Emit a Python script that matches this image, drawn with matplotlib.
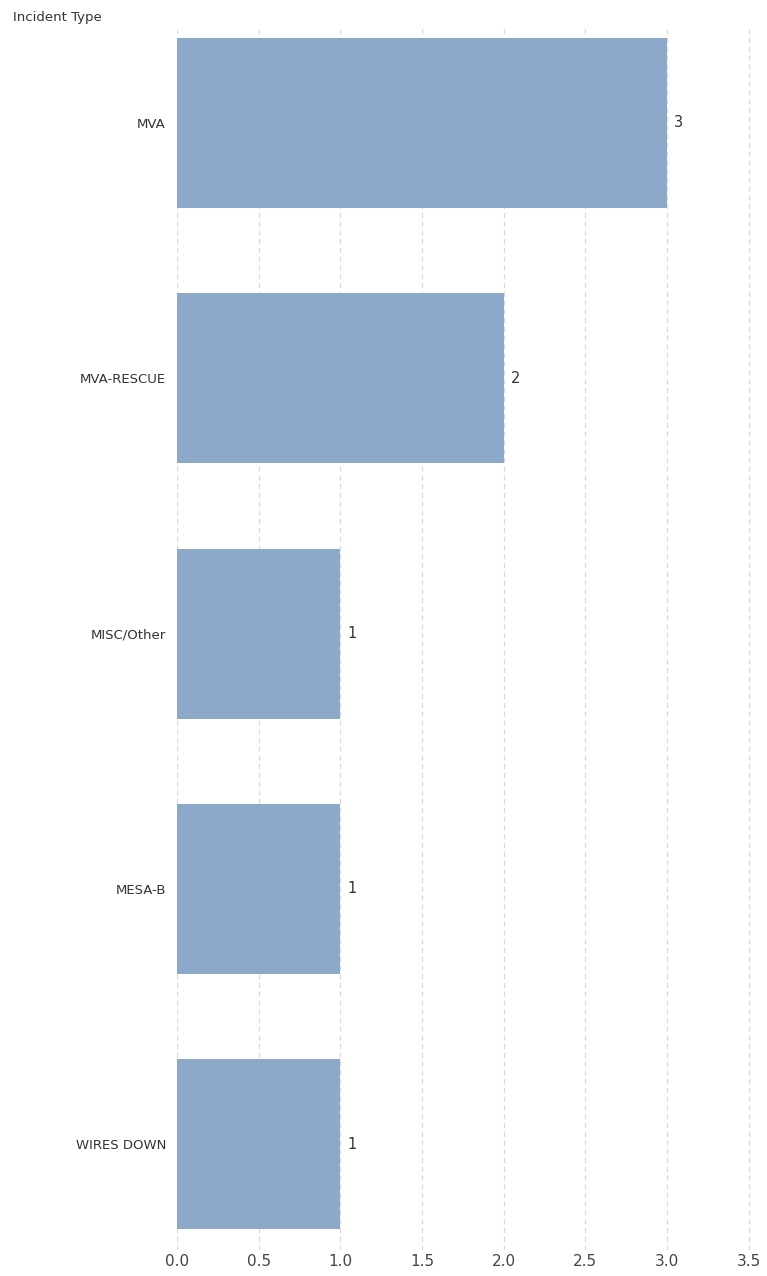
import matplotlib.pyplot as plt

categories = ["MVA", "MVA-RESCUE", "MISC/Other", "MESA-B", "WIRES DOWN"]
counts = [3, 2, 1, 1, 1]
x_ticks = [0.0, 0.5, 1.0, 1.5, 2.0, 2.5, 3.0, 3.5]

W, H = 767, 1276
fig = plt.figure(figsize=(W / 100, H / 100), dpi=100)
ax = fig.add_axes([177 / W, 1 - 1250 / H, (760 - 177) / W, (1250 - 28) / H])

pos = list(range(len(categories)))
ax.barh(pos, counts, height=0.666, color="#8DA9C9", zorder=2)
for p, v in zip(pos, counts):
    ax.text(v + 0.045, p, str(v), va="center", ha="left",
            fontsize=10.5, color="#333333")

ax.set_xlim(0, 3.57)
ax.set_ylim(4.415, -0.372)
ax.set_xticks(x_ticks)
ax.set_xticklabels([f"{t:.1f}" for t in x_ticks], fontsize=11, color="#444444")
ax.set_yticks(pos)
ax.set_yticklabels(categories, fontsize=9.5, color="#333333")
ax.tick_params(axis="both", length=0)
ax.tick_params(axis="x", pad=3)
ax.tick_params(axis="y", pad=8)

ax.grid(axis="x", color="#d9d9d9", linestyle=(0, (4, 3)), linewidth=0.9, zorder=0)
ax.grid(axis="y", visible=False)
for s in ax.spines.values():
    s.set_visible(False)

fig.text(13 / W, 1 - 17 / H, "Incident Type", fontsize=9.5, color="#333333",
         va="center", ha="left")

fig.savefig("out.png", dpi=100)
